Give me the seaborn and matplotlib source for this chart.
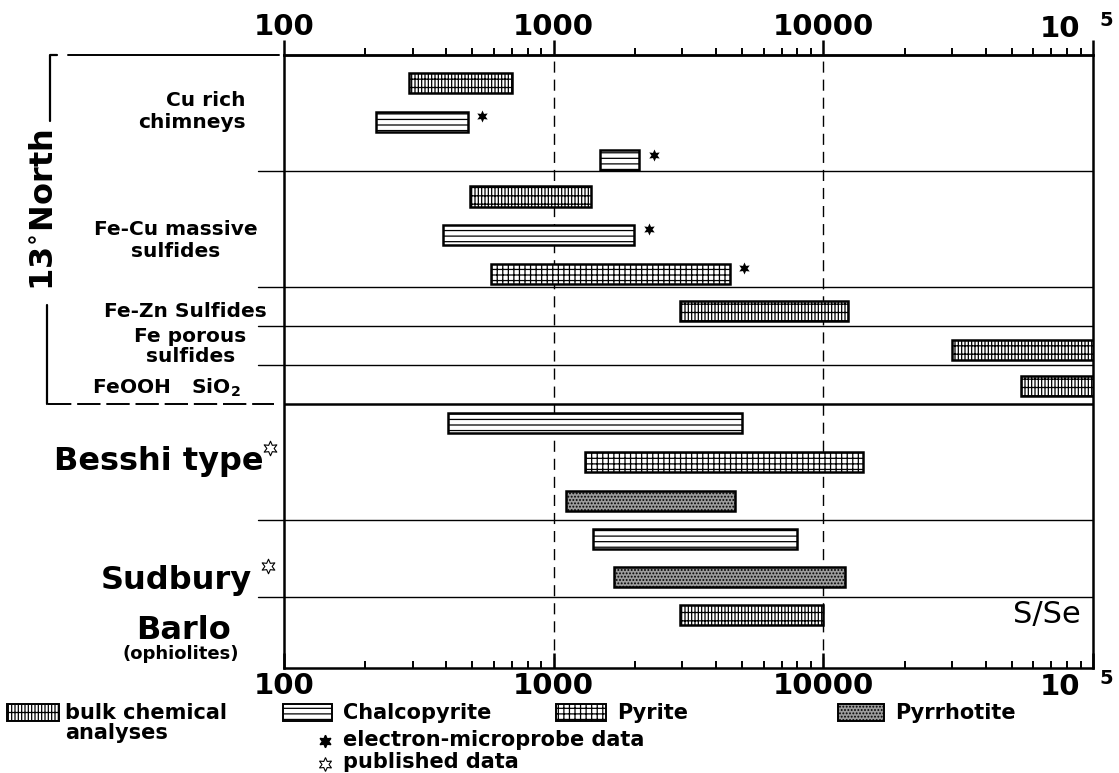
import matplotlib
matplotlib.use("Agg")
import matplotlib.pyplot as plt
from matplotlib.patches import Rectangle
from matplotlib.lines import Line2D
from matplotlib.ticker import FixedLocator, LogLocator, NullFormatter
import numpy as np
import pandas as pd
import seaborn as sns

# groups from top to bottom, and how many rows each one takes
group_names = ['Cu rich\nchimneys', 'Fe-Cu massive\nsulfides', 'Fe-Zn Sulfides',
               'Fe porous\nsulfides', 'FeOOH   SiO$_2$', 'Besshi type', 'Sudbury', 'Barlo']
group_rows = [3, 3, 1, 1, 1, 3, 2, 1.82]
group_offset = [0.72, 0.65, 0.6, 0.62, 0.54, 0.5, 0.48, 0.45]

# one entry per bar (S/Se range)
bar_group = [0, 0, 0, 1, 1, 1, 2, 3, 4, 5, 5, 5, 6, 6, 7]
bar_row = [0, 1, 2, 0, 1, 2, 0, 0, 0, 0, 1, 2, 0, 1, 0]
bar_kind = ['bulk', 'chalcopyrite', 'chalcopyrite', 'bulk', 'chalcopyrite', 'pyrite',
            'bulk', 'bulk', 'bulk', 'chalcopyrite', 'pyrite', 'pyrrhotite',
            'chalcopyrite', 'pyrrhotite', 'bulk']
bar_low = [290, 220, 1480, 490, 390, 585, 2930, 30000, 54000, 405, 1310, 1115, 1400, 1670, 2950]
bar_high = [700, 480, 2080, 1380, 1990, 4500, 12300, 100000, 100000, 5000, 14000, 4700, 8000, 12000, 10000]
bar_probe = [False, True, True, False, True, True, False, False, False,
             False, False, False, False, False, False]

kind_order = ['bulk', 'chalcopyrite', 'pyrite', 'pyrrhotite']
kind_labels = ['bulk chemical\nanalyses', 'Chalcopyrite', 'Pyrite', 'Pyrrhotite']
kind_hatch = {'bulk': '|||||--', 'chalcopyrite': '---', 'pyrite': '+++', 'pyrrhotite': '.....'}
kind_face = {'bulk': 'white', 'chalcopyrite': 'white', 'pyrite': 'white', 'pyrrhotite': '#9c9c9c'}

x_ticks = [100, 1000, 10000, 100000]
x_ticklabels = ['100', '1000', '10000', '']

sns.set_theme(style='ticks')
plt.rcParams['font.family'] = ['DejaVu Sans']
plt.rcParams['mathtext.default'] = 'bf'
plt.rcParams['hatch.linewidth'] = 0.9
plt.rcParams['text.color'] = 'black'
plt.rcParams['xtick.color'] = 'black'
plt.rcParams['xtick.labelcolor'] = 'black'

df = pd.DataFrame({'group': bar_group, 'row': bar_row, 'kind': bar_kind,
                   'low': bar_low, 'high': bar_high, 'probe': bar_probe})
starts = np.concatenate([[0], np.cumsum(group_rows)[:-1]])
df['y'] = starts[df['group']] + df['row'] + np.array(group_offset)[df['group']]

W, H = 1119, 773
BOT = 668
fig = plt.figure(figsize=(W / 100, H / 100), dpi=100)
ax = fig.add_axes([284 / W, 1 - BOT / H, (1093 - 284) / W, (BOT - 55) / H])
ax.set_xscale('log')
ax.set_xlim(100, 100000)
ax.set_ylim(sum(group_rows), 0)

for _, r in df.iterrows():
    ax.barh(r['y'], r['high'] - r['low'], left=r['low'], height=0.52,
            facecolor=kind_face[r['kind']], edgecolor='black', linewidth=1.8,
            hatch=kind_hatch[r['kind']], zorder=3)

probe = df[df['probe']]
ax.scatter(probe['high'] * 1.13, probe['y'] - 0.15, marker=(6, 1, 0), s=75,
           color='black', zorder=4, linewidths=0)

# group separators
bounds = np.cumsum(group_rows)[:-1]
ytr = ax.get_yaxis_transform()
for b in bounds:
    lw = 1.8 if b == 9 else 1.0
    ax.axhline(b, color='black', lw=lw, zorder=2)
    if b == 9:
        ax.add_line(Line2D([-0.292, -0.012], [b, b], transform=ytr, color='black',
                           lw=1.4, ls=(0, (12, 3)), clip_on=False))
    else:
        ax.add_line(Line2D([-0.032, 0], [b, b], transform=ytr, color='black',
                           lw=1.0, clip_on=False))

for v in [1000, 10000]:
    ax.axvline(v, color='black', lw=1.0, ls=(0, (8, 5)), zorder=1)

# bracket for 13 North
ax.add_line(Line2D([-0.281, -0.289, -0.289], [0, 0, 1.7], transform=ytr,
                   color='black', lw=1.6, clip_on=False))
ax.add_line(Line2D([-0.267, -0.006], [0, 0], transform=ytr, color='black',
                   lw=1.4, clip_on=False))
ax.add_line(Line2D([-0.293, -0.293], [6.45, 9.0], transform=ytr,
                   color='black', lw=1.6, clip_on=False))
ax.text(-0.296, 4.0, '13$^{\\circ}$North', transform=ytr, rotation=90, fontsize=23,
        fontweight='bold', ha='center', va='center')

# group labels
small = dict(fontsize=14.5, fontweight='bold', transform=ytr, va='center')
big = dict(fontsize=23, fontweight='bold', transform=ytr, va='center')
ax.text(-0.047, 1.45, group_names[0], ha='right', multialignment='right', linespacing=1.2, **small)
ax.text(-0.134, 4.78, group_names[1], ha='center', multialignment='center', linespacing=1.2, **small)
ax.text(-0.021, 6.62, group_names[2], ha='right', **small)
ax.text(-0.116, 7.53, group_names[3], ha='center', multialignment='center', linespacing=1.05, **small)
ax.text(-0.054, 8.6, group_names[4], ha='right', **small)
ax.text(-0.025, 10.5, group_names[5], ha='right', **big)
ax.text(-0.040, 13.55, group_names[6], ha='right', **big)
ax.text(-0.124, 14.85, group_names[7], ha='center', **big)
ax.text(-0.128, 15.45, '(ophiolites)', ha='center', fontsize=13, fontweight='bold',
        transform=ytr, va='center')
ax.scatter([-0.017, -0.020], [10.15, 13.2], transform=ytr, marker=(6, 1, 0), s=110,
           facecolor='white', edgecolor='black', linewidths=0.8, clip_on=False, zorder=5)

ax.text(0.985, 14.44, 'S/Se', transform=ytr, fontsize=22, ha='right', va='center')

# bottom axis: ticks point inward
ax.xaxis.set_major_locator(FixedLocator(x_ticks))
ax.set_xticklabels(x_ticklabels, fontsize=21, fontweight='bold')
ax.xaxis.set_minor_locator(LogLocator(base=10, subs=np.arange(2, 10)))
ax.xaxis.set_minor_formatter(NullFormatter())
ax.tick_params(axis='x', which='both', direction='in', pad=3)
ax.tick_params(axis='x', which='major', length=11, width=1.8)
ax.tick_params(axis='x', which='minor', length=5, width=1.4)
ax.set_yticks([])

# top axis: ticks point outward
top = ax.secondary_xaxis('top')
top.xaxis.set_major_locator(FixedLocator(x_ticks))
top.set_xticklabels(x_ticklabels, fontsize=21, fontweight='bold')
top.xaxis.set_minor_locator(LogLocator(base=10, subs=np.arange(2, 10)))
top.xaxis.set_minor_formatter(NullFormatter())
top.tick_params(axis='x', which='both', direction='out', pad=-1)
top.tick_params(axis='x', which='major', length=11, width=1.8)
top.tick_params(axis='x', which='minor', length=5, width=1.4)
top.spines['top'].set_linewidth(1.8)

for s in ax.spines.values():
    s.set_linewidth(1.8)
    s.set_color('black')

# the 10^5 labels, with the exponent set apart as in the original
axh = BOT - 55
for base_px in [37, 695]:
    yb = (BOT - base_px) / axh
    ax.text((1080 - 284) / 809, yb, '10', transform=ax.transAxes, ha='right', va='baseline',
            fontsize=21, fontweight='bold', clip_on=False)
    ax.text((1106 - 284) / 809, yb + 11 / axh, '5', transform=ax.transAxes, ha='center',
            va='baseline', fontsize=14, fontweight='bold', clip_on=False)

# legend built by hand below the plot
leg_x = [7, 283, 556, 838]
leg_w = [52, 49, 50, 46]
leg_tx = [65, 343, 617, 895]
for k, lab, x0, w, tx in zip(kind_order, kind_labels, leg_x, leg_w, leg_tx):
    fig.add_artist(Rectangle((x0 / W, 1 - 721 / H), w / W, 17 / H, transform=fig.transFigure,
                             facecolor=kind_face[k], edgecolor='black', lw=1.4,
                             hatch=kind_hatch[k]))
    fig.text(tx / W, 1 - 703 / H, lab, fontsize=15, fontweight='bold',
             va='top', ha='left', linespacing=1.0)
fig.add_artist(Line2D([325 / W], [1 - 741 / H], marker=(6, 1, 0), markersize=9, color='black',
                      lw=0, transform=fig.transFigure))
fig.text(343 / W, 1 - 740 / H, 'electron-microprobe data', fontsize=15, fontweight='bold', va='center')
fig.add_artist(Line2D([325 / W], [1 - 764 / H], marker=(6, 1, 0), markersize=10, markerfacecolor='white',
                      markeredgecolor='black', markeredgewidth=0.8, lw=0, transform=fig.transFigure))
fig.text(343 / W, 1 - 762 / H, 'published data', fontsize=15, fontweight='bold', va='center')

fig.savefig('out.png', dpi=100, facecolor='white')
